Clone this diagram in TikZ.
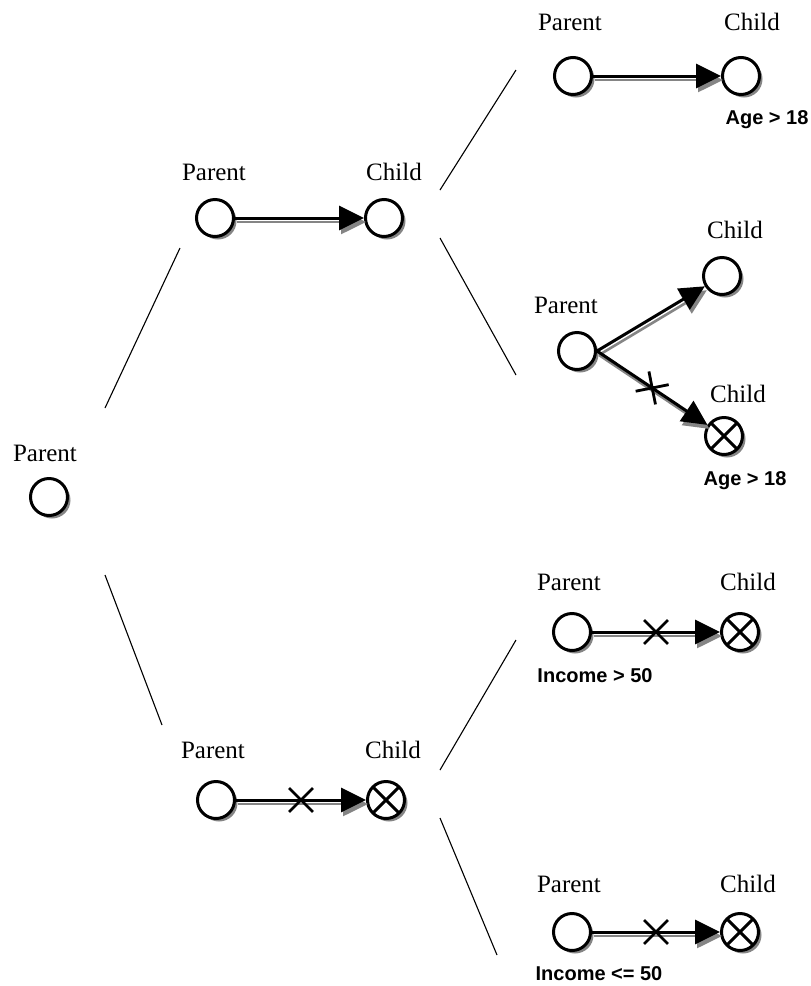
\documentclass[tikz,border=0pt]{standalone}
\usepackage{fontspec}
\setmainfont{Liberation Serif}
\newfontfamily\tagfont{Liberation Sans}
\usetikzlibrary{arrows.meta,shapes.misc,shadows}
\definecolor{shade}{gray}{0.52}
\tikzset{
  state/.style={circle, draw, line width=3pt, fill=white, minimum size=37pt,
    inner sep=0pt,
    drop shadow={shadow xshift=3pt, shadow yshift=-3pt, fill=shade, opacity=1}},
  xstate/.style={state, path picture={
    \draw[line width=3pt]
      (path picture bounding box.south west) -- (path picture bounding box.north east)
      (path picture bounding box.north west) -- (path picture bounding box.south east);}},
  link/.style={line width=3pt, -{Triangle[length=25pt,width=24pt]},
    preaction={draw=shade, line width=2.6pt, -{Triangle[length=25pt,width=24pt]},
      transform canvas={xshift=2pt, yshift=-4pt}}},
  xmark/.style={cross out, draw, line width=2.8pt, minimum size=21pt, inner sep=0pt},
  lbl/.style={anchor=base, font=\fontsize{25}{27}\selectfont, inner sep=0pt},
  tag/.style={anchor=base, font=\tagfont\bfseries\fontsize{20}{22}\selectfont, inner sep=0pt},
  branch/.style={line width=1.1pt}
}
\begin{document}
\begin{tikzpicture}[x=1pt, y=-1pt]
\useasboundingbox (0,0) rectangle (811,986);

% root
\node[state] (p0) at (49,497) {};
\node[lbl] (p0t) at (45,461) {Parent};

% branch lines
\coordinate (b1s) at (105,408); \coordinate (b1e) at (180,248);
\coordinate (b2s) at (105,575); \coordinate (b2e) at (162,725);
\coordinate (b3s) at (440,190); \coordinate (b3e) at (516,70);
\coordinate (b4s) at (440,238); \coordinate (b4e) at (516,375);
\coordinate (b5s) at (440,770); \coordinate (b5e) at (516,640);
\coordinate (b6s) at (440,818); \coordinate (b6e) at (497,955);
\foreach \i in {1,...,6} \draw[branch] (b\i s) -- (b\i e);

% upper middle pair
\node[state] (pA) at (215,218) {};
\node[state] (cA) at (384,218) {};
\node[lbl] at (214,180) {Parent};
\node[lbl] at (394,180) {Child};
\draw[link] (pA) -- (cA);

% top right pair
\node[state] (pB) at (573,76) {};
\node[state] (cB) at (741,76) {};
\node[lbl] at (570,30) {Parent};
\node[lbl] at (752,30) {Child};
\node[tag] at (767,124) {Age > 18};
\draw[link] (pB) -- (cB);

% fork
\node[state] (pC) at (577,351) {};
\node[state] (cC1) at (722,276) {};
\node[xstate] (cC2) at (724,436) {};
\node[lbl] at (566,313) {Parent};
\node[lbl] at (735,238) {Child};
\node[lbl] at (738,402) {Child};
\node[tag] at (745,485) {Age > 18};
\draw[link] (pC.east) -- (cC1);
\draw[link] (pC.east) -- (cC2);
\path (pC.east) -- node[xmark, sloped] {} (cC2);

% lower middle pair
\node[state] (pD) at (216,800) {};
\node[xstate] (cD) at (386,800) {};
\node[lbl] at (213,758) {Parent};
\node[lbl] at (393,758) {Child};
\draw[link] (pD) -- (cD);
\path (pD) -- node[xmark] {} (cD);

% right pair, income > 50
\node[state] (pE) at (572,632) {};
\node[xstate] (cE) at (740,632) {};
\node[lbl] at (569,590) {Parent};
\node[lbl] at (748,590) {Child};
\node[tag] at (595,682) {Income > 50};
\draw[link] (pE) -- (cE);
\path (pE) -- node[xmark] {} (cE);

% right pair, income <= 50
\node[state] (pF) at (572,932) {};
\node[xstate] (cF) at (740,932) {};
\node[lbl] at (569,892) {Parent};
\node[lbl] at (748,892) {Child};
\node[tag] at (599,980) {Income <= 50};
\draw[link] (pF) -- (cF);
\path (pF) -- node[xmark] {} (cF);
\end{tikzpicture}
\end{document}
